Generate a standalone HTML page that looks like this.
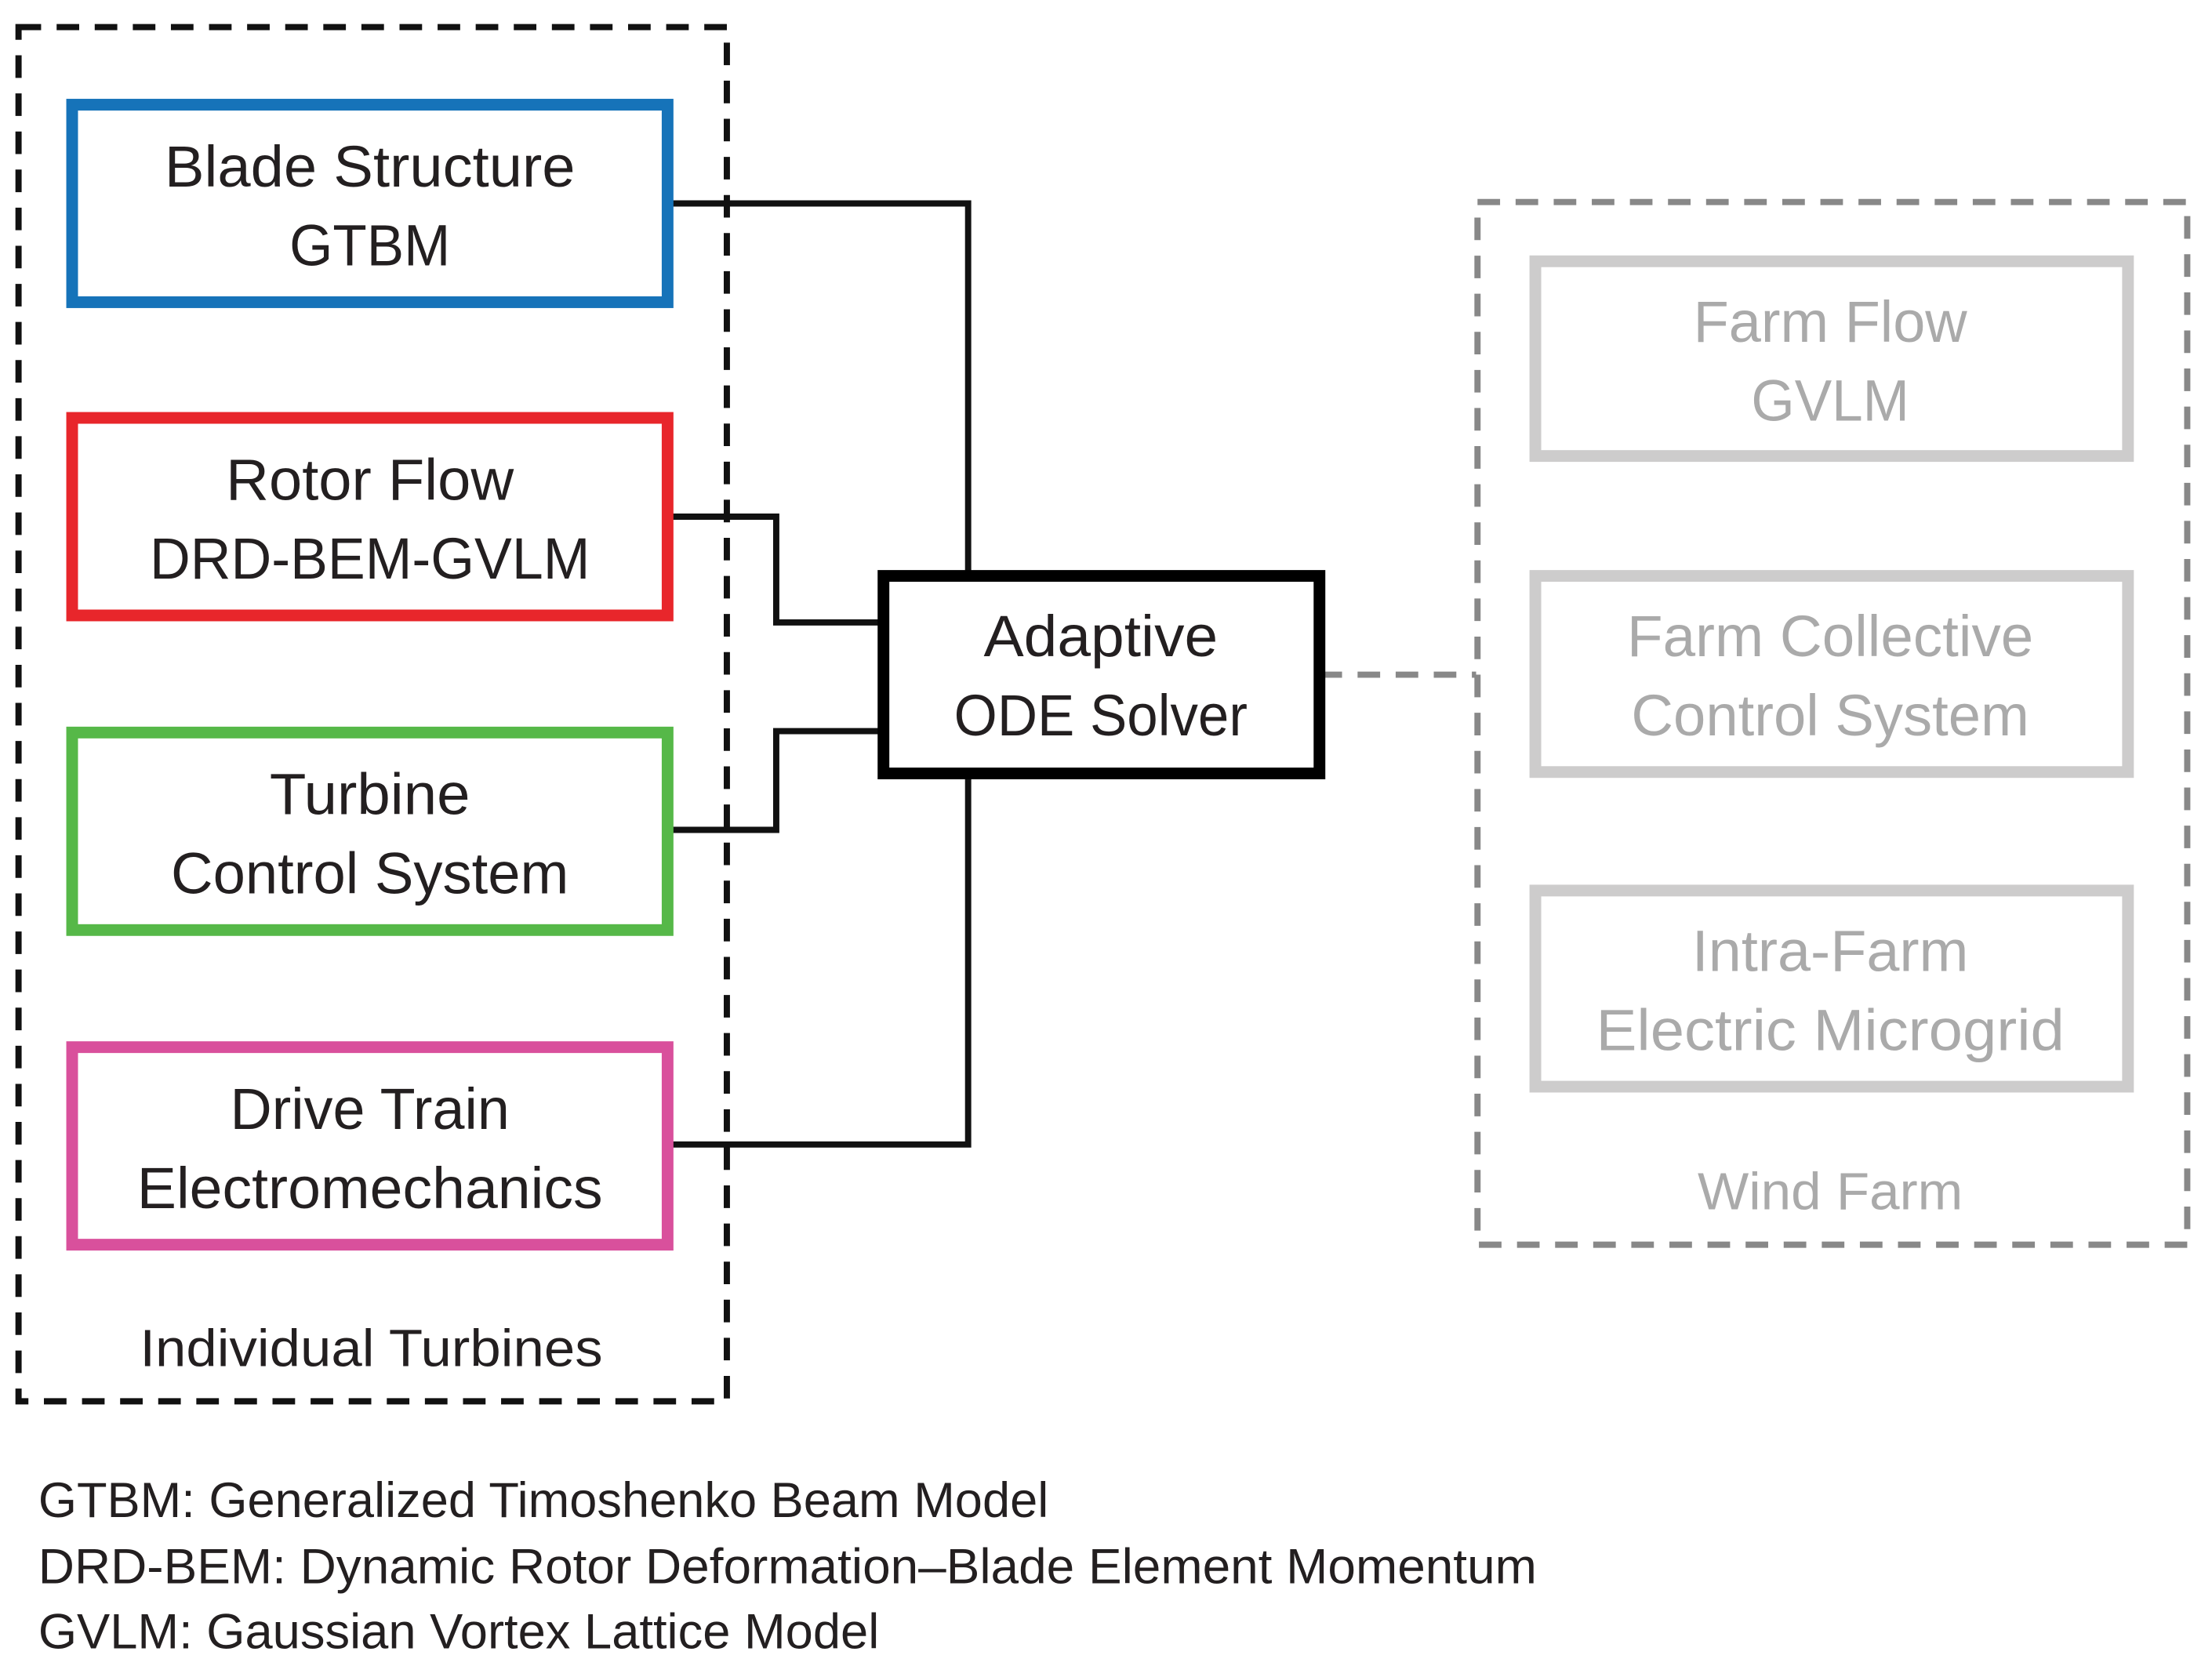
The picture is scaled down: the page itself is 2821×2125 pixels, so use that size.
<!DOCTYPE html>
<html><head><meta charset="utf-8"><style>html,body{margin:0;padding:0;background:#fff}svg{display:block}</style></head><body>
<svg width="2821" height="2125" viewBox="0 0 1552 1169" preserveAspectRatio="none" xmlns="http://www.w3.org/2000/svg" font-family="Liberation Sans, sans-serif">
<rect width="1552" height="1169" fill="#fff"/>
<g transform="translate(0.13,0.19) scale(0.99)">
<rect x="13" y="19" width="502" height="974" fill="none" stroke="#111" stroke-width="4.4" stroke-dasharray="16,11"/>
<rect x="1047" y="143" width="503" height="739" fill="none" stroke="#888" stroke-width="4.4" stroke-dasharray="16,11"/>
<g fill="none" stroke="#111" stroke-width="4.4">
<polyline points="476,144 686,144 686,407"/>
<polyline points="476,366 550,366 550,441 625,441"/>
<polyline points="476,588 550,588 550,518 625,518"/>
<polyline points="476,811 686,811 686,548"/>
</g>
<line x1="935" y1="478" x2="1046" y2="478" stroke="#888" stroke-width="4.4" stroke-dasharray="16,11"/>
<rect x="51" y="74" width="422" height="140" fill="none" stroke="#1673b9" stroke-width="8.3"/>
<rect x="51" y="296" width="422" height="140" fill="none" stroke="#e8262b" stroke-width="8.3"/>
<rect x="51" y="519" width="422" height="140" fill="none" stroke="#56b848" stroke-width="8.3"/>
<rect x="51" y="742" width="422" height="140" fill="none" stroke="#d9509c" stroke-width="8.3"/>
<rect x="626" y="408" width="309" height="140" fill="#fff" stroke="#000" stroke-width="8.3"/>
<rect x="1088" y="185" width="420" height="138" fill="none" stroke="#cdcccc" stroke-width="8.3"/>
<rect x="1088" y="408" width="420" height="139" fill="none" stroke="#cdcccc" stroke-width="8.3"/>
<rect x="1088" y="631" width="420" height="139" fill="none" stroke="#cdcccc" stroke-width="8.3"/>
<g font-size="41" fill="#231f20" text-anchor="middle">
<text x="262" y="132" textLength="291" lengthAdjust="spacingAndGlyphs">Blade Structure</text>
<text x="262" y="188" textLength="114" lengthAdjust="spacingAndGlyphs">GTBM</text>
<text x="262" y="354" textLength="204" lengthAdjust="spacingAndGlyphs">Rotor Flow</text>
<text x="262" y="410" textLength="312" lengthAdjust="spacingAndGlyphs">DRD-BEM-GVLM</text>
<text x="262" y="577" textLength="142" lengthAdjust="spacingAndGlyphs">Turbine</text>
<text x="262" y="633" textLength="282" lengthAdjust="spacingAndGlyphs">Control System</text>
<text x="262" y="800" textLength="198" lengthAdjust="spacingAndGlyphs">Drive Train</text>
<text x="262" y="856" textLength="330" lengthAdjust="spacingAndGlyphs">Electromechanics</text>
<text x="780" y="465" textLength="166" lengthAdjust="spacingAndGlyphs">Adaptive</text>
<text x="780" y="521" textLength="208" lengthAdjust="spacingAndGlyphs">ODE Solver</text>
<text x="263" y="968" font-size="37" textLength="328" lengthAdjust="spacingAndGlyphs">Individual Turbines</text>
</g>
<g font-size="41" fill="#aaa" text-anchor="middle">
<text x="1297" y="242" textLength="194" lengthAdjust="spacingAndGlyphs">Farm Flow</text>
<text x="1297" y="298" textLength="112" lengthAdjust="spacingAndGlyphs">GVLM</text>
<text x="1297" y="465" textLength="288" lengthAdjust="spacingAndGlyphs">Farm Collective</text>
<text x="1297" y="521" textLength="282" lengthAdjust="spacingAndGlyphs">Control System</text>
<text x="1297" y="688" textLength="196" lengthAdjust="spacingAndGlyphs">Intra-Farm</text>
<text x="1297" y="744" textLength="332" lengthAdjust="spacingAndGlyphs">Electric Microgrid</text>
<text x="1297" y="857" font-size="37" textLength="188" lengthAdjust="spacingAndGlyphs">Wind Farm</text>
</g>
<g font-size="35" fill="#231f20">
<text x="27" y="1075" textLength="716" lengthAdjust="spacingAndGlyphs">GTBM: Generalized Timoshenko Beam Model</text>
<text x="27" y="1122" textLength="1062" lengthAdjust="spacingAndGlyphs">DRD-BEM: Dynamic Rotor Deformation–Blade Element Momentum</text>
<text x="27" y="1168" textLength="596" lengthAdjust="spacingAndGlyphs">GVLM: Gaussian Vortex Lattice Model</text>
</g>
</g>
</svg>
</body></html>
